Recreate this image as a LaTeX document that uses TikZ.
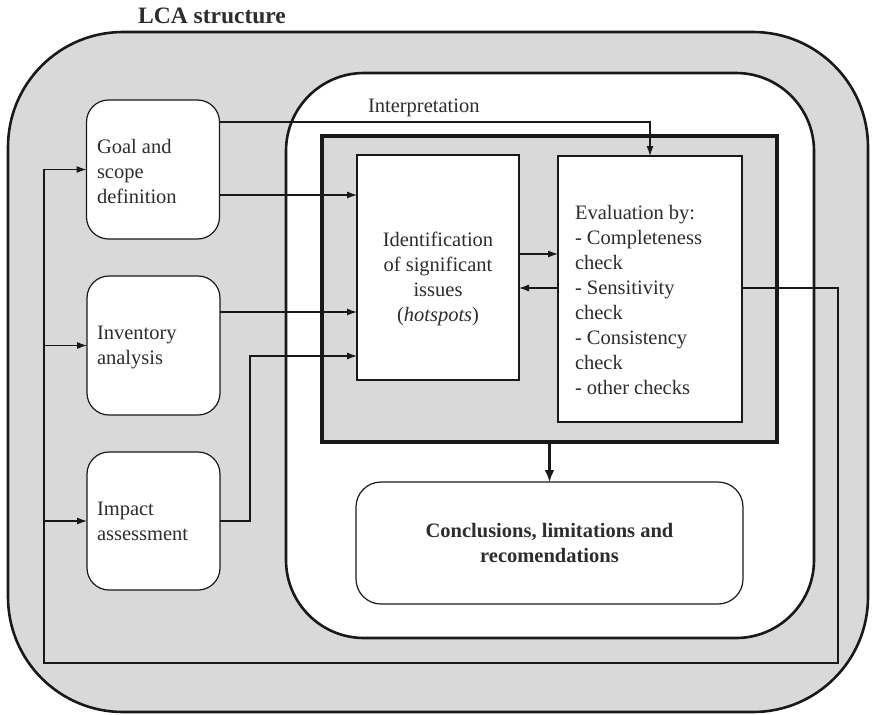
\documentclass[tikz,border=0pt]{standalone}
\usepackage{fontspec}
\setmainfont{Liberation Serif}
\usetikzlibrary{arrows.meta}
\definecolor{panel}{RGB}{217,217,217}
\definecolor{ink}{RGB}{25,25,25}
\definecolor{type}{RGB}{45,45,45}

\begin{document}
\begin{tikzpicture}[x=1pt,y=-1pt,
  every node/.style={inner sep=0pt, outer sep=0pt},
  frame/.style={draw=ink, line width=2.6pt},
  stage/.style={draw=ink, line width=1.2pt, fill=white, rounded corners=22pt,
    minimum width=133pt, minimum height=139pt},
  issuebox/.style={draw=ink, line width=1.2pt, fill=white},
  txt/.style={font=\fontsize{20.5}{25}\selectfont, text=type},
  link/.style={draw=ink, line width=1.1pt, -{Latex[length=10pt,width=7pt]}},
  biglink/.style={draw=ink, line width=2.6pt, -{Latex[length=12pt,width=10pt]}}
]
\useasboundingbox (0,0) rectangle (873,715);

% title
\node[font=\fontsize{23.5}{28}\selectfont\bfseries, text=type, anchor=base] (title) at (212,23) {LCA structure};

% outer LCA frame and the interpretation phase
\node[frame, fill=panel, rounded corners=115pt, minimum width=860pt, minimum height=680pt] (lca) at (438,372) {};
\node[frame, fill=white, rounded corners=78pt, minimum width=528pt, minimum height=565pt] (interp) at (550,355.5) {};
\node[txt, anchor=base west] (interplabel) at (368,112) {Interpretation};

% core of the interpretation
\node[draw=ink, line width=3.2pt, fill=panel, minimum width=455pt, minimum height=306pt] (core) at (549.5,289) {};
\node[issuebox, minimum width=162pt, minimum height=225pt] (ident) at (438,267.5) {};
\node[issuebox, minimum width=184pt, minimum height=266pt] (eval) at (650,289) {};
% multi-line texts are placed by the baseline of their last line
\node[txt, align=center, anchor=base] (identtext) at (438,321)
  {Identification\\of significant\\issues\\(\textit{hotspots})};
\node[txt, align=left, anchor=base west] (evaltext) at (575,394)
  {Evaluation by:\\- Completeness\\check\\- Sensitivity\\check\\- Consistency\\check\\- other checks};

% conclusions
\node[draw=ink, line width=1.2pt, fill=white, rounded corners=25pt,
  minimum width=387pt, minimum height=122pt] (concl) at (549.5,543) {};
\node[font=\fontsize{20.5}{25}\selectfont\bfseries, text=type, align=center, anchor=base] (concltext)
  at (549.5,562) {Conclusions, limitations and\\recomendations};

% the three LCA stages
\node[stage] (goal) at (153,169.5) {};
\node[stage] (inv) at (153.5,345.5) {};
\node[stage, minimum height=138pt] (imp) at (153.5,521) {};
\node[txt, align=left, anchor=base west] (goaltext) at (97,203) {Goal and\\scope\\definition};
\node[txt, align=left, anchor=base west] (invtext) at (97,364) {Inventory\\analysis};
\node[txt, align=left, anchor=base west] (imptext) at (97,540) {Impact\\assessment};

% levels and bends of the connectors
\coordinate (lvA) at (0,122);
\coordinate (lvB) at (0,195);
\coordinate (lvC) at (0,312);
\coordinate (lvE) at (0,254);
\coordinate (lvF) at (0,288);
\coordinate (impbend) at (250,356);
\coordinate (fbR) at (838,663);
\coordinate (fbL) at (44,663);

% stages feeding the interpretation
\draw[link] (goal.east |- lvA) -| (eval.north);
\draw[link] (goal.east |- lvB) -- (ident.west |- lvB);
\draw[link] (inv.east |- lvC) -- (ident.west |- lvC);
\draw[link] (imp.east) -| (impbend) -- (ident.west |- impbend);

% identification <-> evaluation
\draw[link] (ident.east |- lvE) -- (eval.west |- lvE);
\draw[link] (eval.west |- lvF) -- (ident.east |- lvF);

% feedback loop back to the stages
\draw[link] (eval.east |- lvF) -| (fbR) -- (fbL) |- (goal.west);
\draw[link] (fbL |- inv.west) -- (inv.west);
\draw[link] (fbL |- imp.west) -- (imp.west);

% interpretation leads to conclusions
\draw[biglink] (core.south) -- (concl.north);
\end{tikzpicture}
\end{document}
